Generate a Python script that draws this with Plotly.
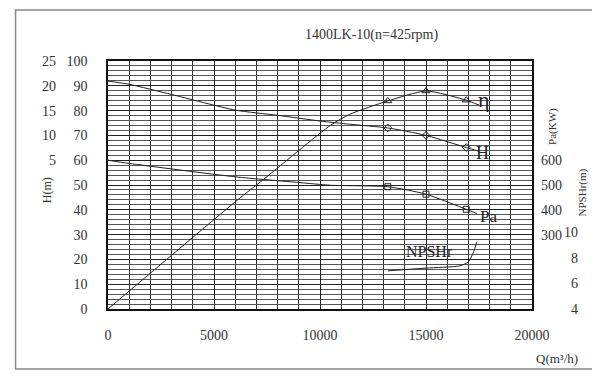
import plotly.graph_objects as go

# ---------------- data ----------------
title_text = "1400LK-10(n=425rpm)"

# Head H (m)
q_h = [0, 1000, 3000, 6000, 8000, 10000, 11400, 13200, 15000, 16900, 17500]
h_m = [20.95, 20.3, 18.25, 15.1, 14.05, 12.9, 12.25, 11.5, 10.0, 7.55, 6.8]

# Efficiency eta (%)
q_eta = [0, 6100, 7300, 10500, 11400, 13200, 15000, 16900, 17500]
eta_pct = [0, 43.9, 52.0, 74.1, 78.5, 83.9, 87.9, 84.2, 82.2]

# Shaft power Pa (kW)
q_pa = [0, 1000, 6000, 9000, 10500, 13200, 15000, 16900, 17400]
pa_kw = [600, 587, 533, 510, 499, 493, 463, 402, 385]

# NPSHr (m)
q_npsh = [13200, 15000, 16600, 17000, 17250, 17400]
npsh_m = [6.97, 7.18, 7.36, 7.67, 8.46, 9.23]

# marked duty points
q_marks = [13200, 15000, 16900]
h_marks = [11.5, 10.0, 7.55]
eta_marks = [83.9, 87.9, 84.2]
pa_marks = [493, 463, 402]

x_ticks = [0, 5000, 10000, 15000, 20000]
eta_ticks = [0, 10, 20, 30, 40, 50, 60, 70, 80, 90, 100]
h_ticks = [5, 10, 15, 20, 25]
pa_ticks = [300, 400, 500, 600]
npsh_ticks = [4, 6, 8, 10]

# ---------------- figure ----------------
SERIF = "Liberation Serif, Times New Roman, serif"
LINE = dict(color="#222222", width=1)

fig = go.Figure()

fig.add_trace(go.Scatter(x=q_h, y=h_m, yaxis="y2", mode="lines",
                         line=dict(shape="spline", smoothing=0.6, **LINE),
                         hoverinfo="skip", showlegend=False))
fig.add_trace(go.Scatter(x=q_marks, y=h_marks, yaxis="y2", mode="markers",
                         marker=dict(symbol="diamond-open", size=6, color="#222",
                                     line=dict(width=1)),
                         showlegend=False))

fig.add_trace(go.Scatter(x=q_eta, y=eta_pct, mode="lines",
                         line=dict(shape="spline", smoothing=0.6, **LINE),
                         hoverinfo="skip", showlegend=False))
fig.add_trace(go.Scatter(x=q_marks, y=eta_marks, mode="markers",
                         marker=dict(symbol="triangle-up-open", size=7, color="#222",
                                     line=dict(width=1)),
                         showlegend=False))

fig.add_trace(go.Scatter(x=q_pa, y=pa_kw, yaxis="y3", mode="lines",
                         line=dict(shape="spline", smoothing=0.6, **LINE),
                         hoverinfo="skip", showlegend=False))
fig.add_trace(go.Scatter(x=q_marks, y=pa_marks, yaxis="y3", mode="markers",
                         marker=dict(symbol="square-open", size=6, color="#222",
                                     line=dict(width=1)),
                         showlegend=False))

fig.add_trace(go.Scatter(x=q_npsh, y=npsh_m, yaxis="y4", mode="lines",
                         line=dict(shape="spline", smoothing=0.6, **LINE),
                         hoverinfo="skip", showlegend=False))

tickfont = dict(family=SERIF, size=14, color="#333")

# the page body has an 8px margin, so the figure is 8px smaller and its
# top/left margins 8px smaller to land the plot area where the reference has it
fig.update_layout(
    width=592, height=372,
    margin=dict(l=100, r=68, t=53, b=71),
    paper_bgcolor="white", plot_bgcolor="white",
    font=dict(family=SERIF, color="#333"),
    xaxis=dict(range=[0, 20000], tickvals=x_ticks, ticktext=[str(v) for v in x_ticks],
               showgrid=True, gridcolor="#222", gridwidth=1,
               minor=dict(dtick=1000, tick0=0, showgrid=True, gridcolor="#333", gridwidth=1),
               showline=True, linecolor="#111", linewidth=1.5, mirror=True,
               zeroline=False, ticks="", tickfont=tickfont, ticklabelstandoff=12),
    yaxis=dict(range=[0, 100], tickvals=eta_ticks, ticktext=[str(v) for v in eta_ticks],
               showgrid=True, gridcolor="#222", gridwidth=1,
               minor=dict(dtick=2, tick0=0, showgrid=True, gridcolor="#555", gridwidth=1),
               showline=True, linecolor="#111", linewidth=1.5, mirror=True,
               zeroline=False, ticks="", tickfont=tickfont, ticklabelstandoff=16),
    yaxis2=dict(range=[-25, 25], overlaying="y", side="left", anchor="x",
                tickvals=h_ticks,
                ticktext=[("\u2007" + str(v)) if v < 10 else str(v) for v in h_ticks],
                showgrid=False, zeroline=False, showline=False, ticks="",
                tickfont=tickfont, ticklabelstandoff=51),
    yaxis3=dict(range=[0, 1000], overlaying="y", side="right", anchor="x",
                tickvals=pa_ticks, ticktext=[str(v) for v in pa_ticks],
                showgrid=False, zeroline=False, showline=False, ticks="",
                tickfont=tickfont, ticklabelstandoff=8),
    yaxis4=dict(range=[4, 23.3], overlaying="y", side="right", anchor="x",
                tickvals=npsh_ticks,
                ticktext=[("\u2007" + str(v)) if v < 10 else str(v) for v in npsh_ticks],
                showgrid=False, zeroline=False, showline=False, ticks="",
                tickfont=tickfont, ticklabelstandoff=31),
    showlegend=False,
)

# outer frame
fig.add_shape(type="rect", xref="paper", yref="paper",
              x0=-0.218, x1=1.147, y0=-0.2416, y1=1.206,
              line=dict(color="#888", width=1.5), fillcolor="rgba(0,0,0,0)", layer="above")

C = dict(showarrow=False, xanchor="center", yanchor="middle")
ann = []
ann.append(dict(text=title_text, xref="paper", yref="paper", x=0.622, y=1.106,
                font=dict(family=SERIF, size=14, color="#333"), **C))
ann.append(dict(text="H(m)", xref="paper", yref="paper", x=-0.142, y=0.478,
                textangle=-90, font=dict(family=SERIF, size=12, color="#333"), **C))
ann.append(dict(text="Pa(KW)", xref="paper", yref="paper", x=1.05, y=0.735,
                textangle=-90, font=dict(family=SERIF, size=11, color="#333"), **C))
ann.append(dict(text="NPSHr(m)", xref="paper", yref="paper", x=1.118, y=0.47,
                textangle=-90, font=dict(family=SERIF, size=11, color="#333"), **C))
ann.append(dict(text="Q(m\u00b3/h)", xref="paper", yref="paper", x=1.06, y=-0.198,
                font=dict(family=SERIF, size=13, color="#333"), **C))
# curve labels
ann.append(dict(text="\u03b7", xref="x", yref="y", x=17750, y=84.6,
                font=dict(family=SERIF, size=22, color="#222"), **C))
ann.append(dict(text="H", xref="x", yref="y", x=17650, y=63.0,
                font=dict(family=SERIF, size=18, color="#222"), **C))
ann.append(dict(text="Pa", xref="x", yref="y", x=17940, y=37.3,
                font=dict(family=SERIF, size=17, color="#222"), **C))
ann.append(dict(text="NPSHr", xref="x", yref="y", x=15150, y=23.0,
                font=dict(family=SERIF, size=16, color="#222"), **C))
fig.update_layout(annotations=ann)

fig.write_html("out.html")
